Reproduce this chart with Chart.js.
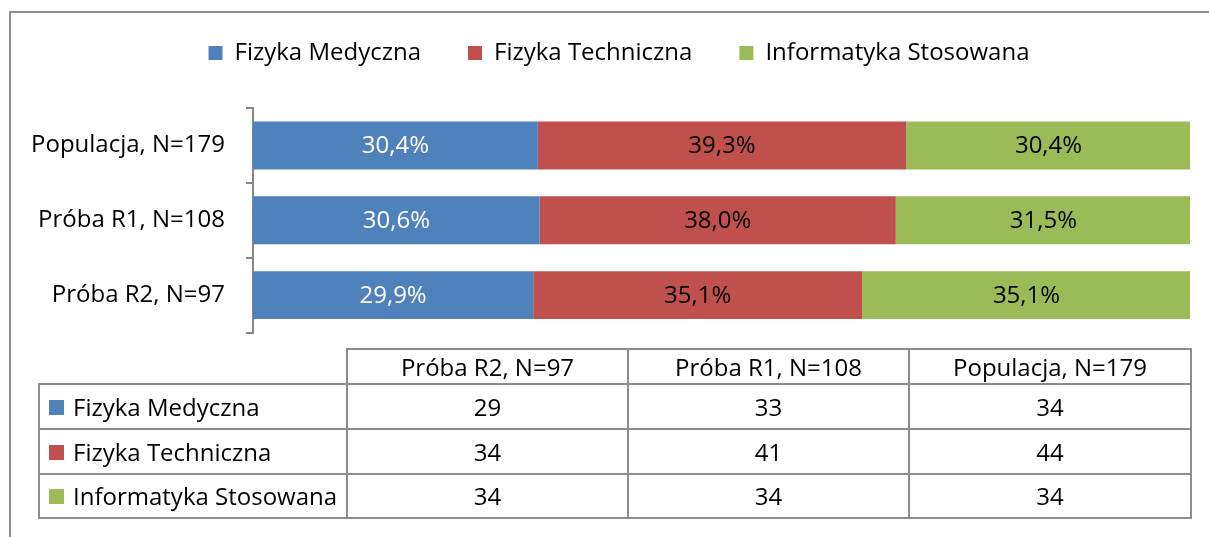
<!DOCTYPE html>
<html><head><meta charset="utf-8">
<script src="https://cdn.jsdelivr.net/npm/chart.js@4/dist/chart.umd.min.js"></script>
<style>
html,body{margin:0;padding:0;background:#fff;overflow:hidden;width:1209px;height:537px}
body{position:relative;font-family:"Open Sans",sans-serif}
#frame{position:absolute;left:9px;top:11px;width:1300px;height:600px;border-left:2px solid #8c8c8c;border-top:2px solid #8c8c8c;box-sizing:border-box}
#c{position:absolute;left:0;top:-6px}
#tbl{position:absolute;left:38px;top:348px;border-collapse:collapse;font-size:24px;color:#000;table-layout:fixed}
#tbl td{border:2px solid #8c8c8c;padding:0;text-align:center;white-space:nowrap;overflow:hidden;line-height:1}
#tbl td.blank{border:none}
#tbl td.lab{text-align:left;padding-left:9px}
#tbl .key{display:inline-block;width:15px;height:15px;margin-right:9px;vertical-align:middle;position:relative;top:-2px}
</style>
</head><body>
<div id="frame"></div>
<canvas id="c" width="1209" height="374"></canvas>
<table id="tbl"></table>
<script>
const categories = ['Populacja, N=179', 'Próba R1, N=108', 'Próba R2, N=97'];
const seriesNames = ['Fizyka Medyczna', 'Fizyka Techniczna', 'Informatyka Stosowana'];
const fizykaMedycznaPct = [30.4, 30.6, 29.9];
const fizykaTechnicznaPct = [39.3, 38.0, 35.1];
const informatykaStosowanaPct = [30.4, 31.5, 35.1];
const tableColumns = ['Próba R2, N=97', 'Próba R1, N=108', 'Populacja, N=179'];
const fizykaMedycznaCount = [29, 33, 34];
const fizykaTechnicznaCount = [34, 41, 44];
const informatykaStosowanaCount = [34, 34, 34];
const seriesColors = ['#4f81bd', '#c0504d', '#9bbb59'];

const FONT = '"Open Sans", sans-serif';
const L = 20;
const LEGEND_SHIFT = 14;

const barLabels = {
  id: 'barLabels',
  afterLayout(chart) {
    if (chart.legend) { chart.legend.left += LEGEND_SHIFT; chart.legend.right += LEGEND_SHIFT; }
  },
  afterDatasetsDraw(chart) {
    const ctx = chart.ctx;
    ctx.save();
    ctx.font = '24px ' + FONT;
    ctx.textAlign = 'center';
    ctx.textBaseline = 'middle';
    chart.data.datasets.forEach((ds, i) => {
      const meta = chart.getDatasetMeta(i);
      meta.data.forEach((bar, j) => {
        const p = bar.getProps(['x', 'base', 'y'], true);
        ctx.fillStyle = i === 0 ? '#ffffff' : '#000000';
        ctx.fillText(ds.data[j].toFixed(1).replace('.', ',') + '%', (p.x + p.base) / 2, p.y + 1);
      });
    });
    ctx.restore();
  }
};

const pctSeries = [fizykaMedycznaPct, fizykaTechnicznaPct, informatykaStosowanaPct];
new Chart(document.getElementById('c'), {
  type: 'bar',
  data: {
    labels: categories,
    datasets: seriesNames.map((n, i) => ({
      label: n, data: pctSeries[i], backgroundColor: seriesColors[i],
      borderWidth: 0, categoryPercentage: 0.8, barPercentage: 0.8
    }))
  },
  options: {
    indexAxis: 'y', responsive: false, animation: false,
    layout: { padding: { top: 0, left: L, right: 19, bottom: 12 } },
    plugins: {
      legend: { position: 'top', labels: { boxWidth: 14, boxHeight: 14, padding: 47, color: '#000', font: { family: FONT, size: 24 } } },
      tooltip: { enabled: false }
    },
    scales: {
      x: { position: 'top', stacked: true, min: 0, max: 100,
        ticks: { display: false }, grid: { display: false }, border: { display: false },
        afterFit(s) { s.height = 33; } },
      y: { stacked: true,
        grid: { offset: true, drawOnChartArea: false, tickLength: 7, color: '#868686', lineWidth: 2 },
        border: { color: '#868686', width: 2 },
        ticks: { padding: 21, color: '#000', font: { family: FONT, size: 24 } },
        afterFit(s) { s.width = 253 - L; } }
    }
  },
  plugins: [barLabels]
});

// data table
const countSeries = [fizykaMedycznaCount, fizykaTechnicznaCount, informatykaStosowanaCount];
const colW = [308, 281, 281, 282];
const rowH = [45, 45, 44];
const tbl = document.getElementById('tbl');
let html = '<colgroup>' + colW.map(w => '<col style="width:' + w + 'px">').join('') + '</colgroup>';
html += '<tr style="height:35px"><td class="blank"></td>' + tableColumns.map(c => '<td>' + c + '</td>').join('') + '</tr>';
seriesNames.forEach((n, i) => {
  html += '<tr style="height:' + rowH[i] + 'px"><td class="lab"><span class="key" style="background:' + seriesColors[i] + '"></span>' + n + '</td>' +
    countSeries[i].map(v => '<td>' + v + '</td>').join('') + '</tr>';
});
tbl.innerHTML = html;
</script>
</body></html>
